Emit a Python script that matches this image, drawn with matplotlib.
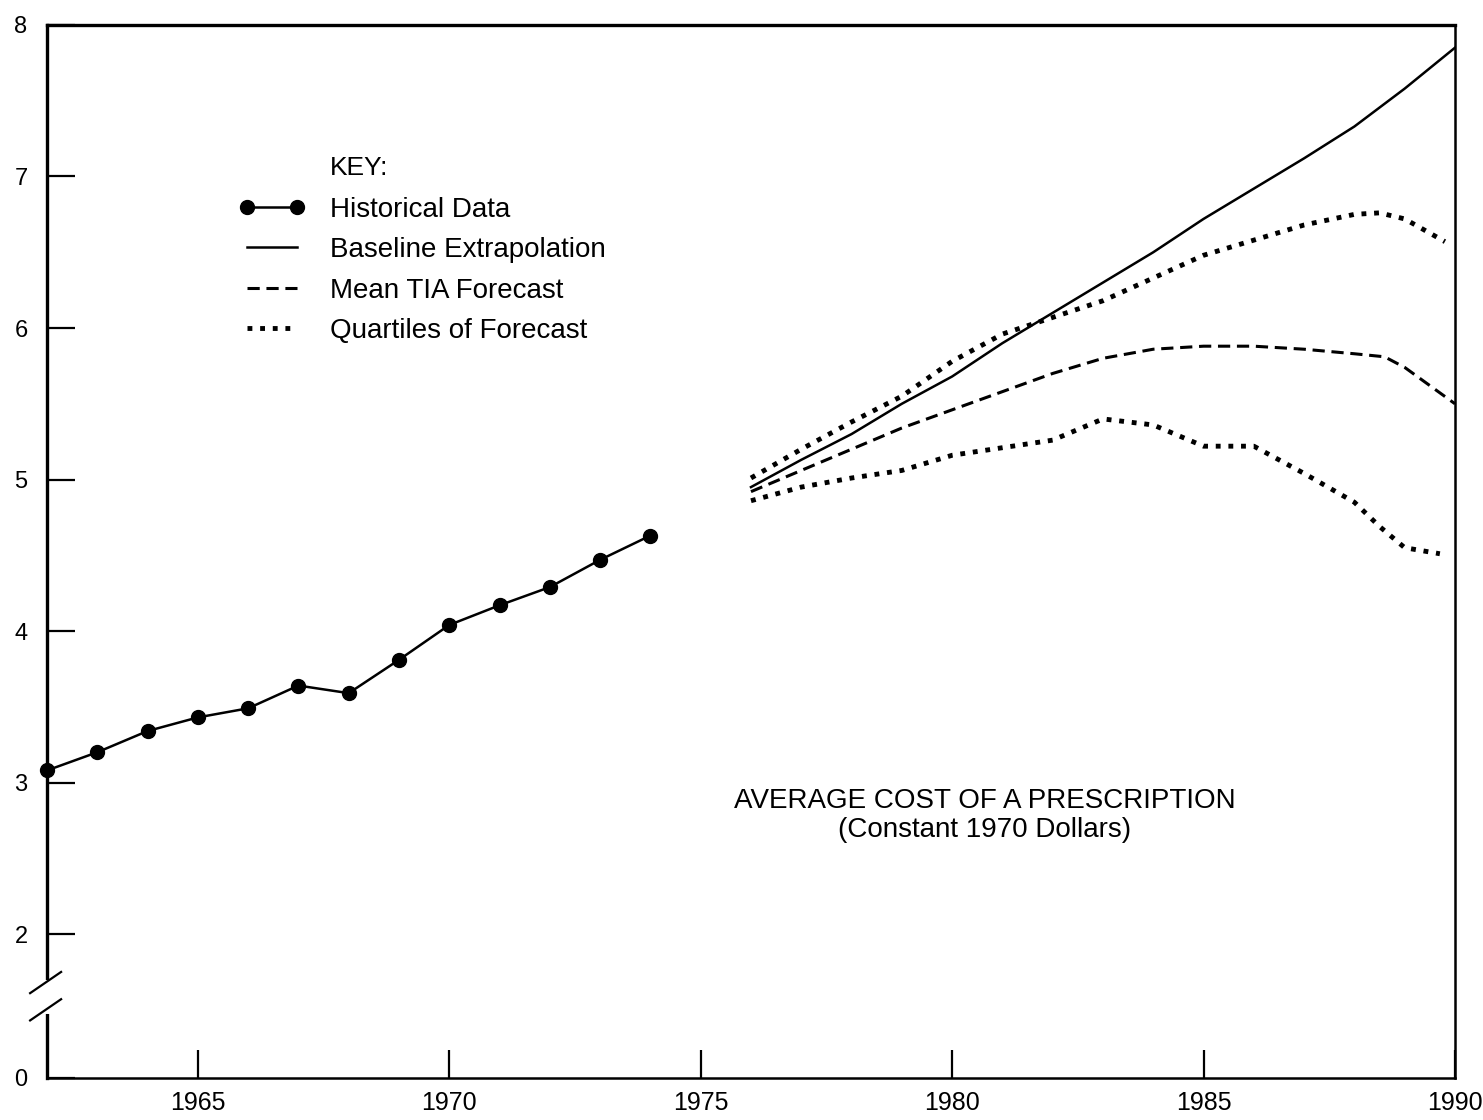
import matplotlib.pyplot as plt

plt.rcParams['font.family'] = ['Liberation Sans', 'DejaVu Sans']

# historical average cost of a prescription (constant 1970 dollars)
hist_years = [1962, 1963, 1964, 1965, 1966, 1967, 1968, 1969, 1970, 1971, 1972, 1973, 1974]
hist_cost = [3.08, 3.20, 3.34, 3.43, 3.49, 3.64, 3.59, 3.81, 4.04, 4.17, 4.29, 4.47, 4.63]

# forecast period
fc_years = [1976, 1977, 1978, 1979, 1980, 1981, 1982, 1983, 1984, 1985, 1986, 1987, 1988, 1989, 1990]
baseline = [4.95, 5.13, 5.30, 5.50, 5.68, 5.90, 6.10, 6.30, 6.50, 6.72, 6.92, 7.12, 7.33, 7.58, 7.85]

mean_years = [1976, 1977, 1978, 1979, 1980, 1981, 1982, 1983, 1984, 1985, 1986, 1987, 1988, 1988.6, 1989, 1989.5, 1990]
mean_tia = [4.92, 5.06, 5.20, 5.34, 5.46, 5.58, 5.70, 5.80, 5.86, 5.88, 5.88, 5.86, 5.83, 5.81, 5.74, 5.62, 5.50]

upper_years = [1976, 1977, 1978, 1979, 1980, 1981, 1982, 1983, 1984, 1985, 1986, 1987, 1988, 1988.5, 1989, 1989.8]
upper_q = [5.01, 5.20, 5.38, 5.55, 5.78, 5.96, 6.07, 6.18, 6.33, 6.48, 6.58, 6.68, 6.75, 6.76, 6.72, 6.57]

lower_years = [1976, 1977, 1978, 1979, 1980, 1981, 1982, 1983, 1984, 1985, 1986, 1987, 1988, 1988.5, 1989, 1989.7]
lower_q = [4.86, 4.95, 5.01, 5.06, 5.16, 5.21, 5.26, 5.40, 5.36, 5.22, 5.22, 5.04, 4.85, 4.69, 4.55, 4.51]

x_ticks = [1965, 1970, 1975, 1980, 1985, 1990]
y_ticks = [1.05, 2, 3, 4, 5, 6, 7, 8]
y_labels = ['0', '2', '3', '4', '5', '6', '7', '8']

fig = plt.figure(figsize=(14.83, 11.2), dpi=100)
ax = fig.add_axes([0.0317, 0.0375, 0.9494, 0.9402])

dots = (0, (1, 1.6))
h_hist, = ax.plot(hist_years, hist_cost, color='black', lw=1.8, marker='o', ms=10,
                  label='Historical Data', clip_on=False, zorder=3)
h_base, = ax.plot(fc_years, baseline, color='black', lw=1.8, label='Baseline Extrapolation')
h_mean, = ax.plot(mean_years, mean_tia, color='black', lw=2.2, ls=(0, (4, 2.2)),
                  label='Mean TIA Forecast')
h_q, = ax.plot(upper_years, upper_q, color='black', lw=3.5, ls=dots, label='Quartiles of Forecast')
ax.plot(lower_years, lower_q, color='black', lw=3.5, ls=dots)

ax.set_xlim(1962, 1990)
ax.set_ylim(1.05, 8)
ax.set_xticks(x_ticks)
ax.set_xticklabels([str(x) for x in x_ticks])
ax.set_yticks(y_ticks)
ax.set_yticklabels(y_labels)
ax.tick_params(direction='in', length=20, width=1.6, labelsize=18, pad=9)
ax.tick_params(axis='y', pad=14, labelsize=17)

for side in ['left', 'top']:
    ax.spines[side].set_linewidth(2.4)
ax.spines['bottom'].set_linewidth(1.8)
ax.spines['right'].set_linewidth(1.8)

# axis break on the y axis between 0 and 2
ax.plot([0, 0], [1.50, 1.68], transform=ax.get_yaxis_transform(), color='white', lw=5,
        clip_on=False, zorder=5)
for yb in [1.50, 1.68]:
    ax.plot([-0.012, 0.010], [yb - 0.07, yb + 0.07], transform=ax.get_yaxis_transform(),
            color='black', lw=1.6, clip_on=False, zorder=6)

ax.text(1980.65, 2.78, 'AVERAGE COST OF A PRESCRIPTION\n(Constant 1970 Dollars)',
        ha='center', va='center', fontsize=20, linespacing=1.15)

ax.text(0.201, 0.864, 'KEY:', transform=ax.transAxes, fontsize=19, va='center')
leg = ax.legend(handles=[h_hist, h_base, h_mean, h_q], loc='upper left',
                bbox_to_anchor=(0.136, 0.837), frameon=False, fontsize=20,
                handlelength=2.4, handletextpad=0.9, labelspacing=0.52, numpoints=2,
                borderpad=0, borderaxespad=0)

fig.savefig('out.png', dpi=100)
